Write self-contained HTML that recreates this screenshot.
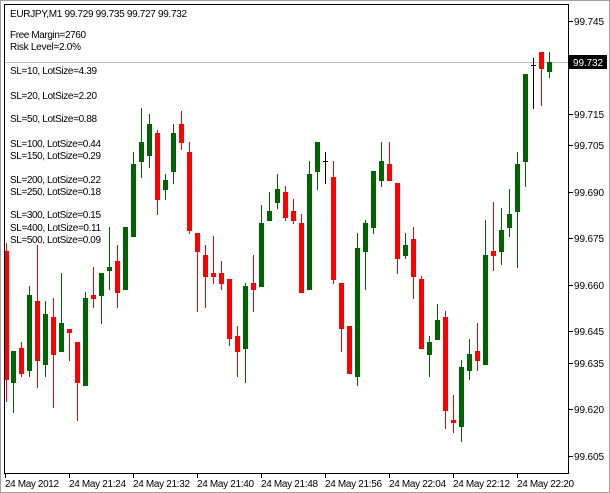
<!DOCTYPE html>
<html><head><meta charset="utf-8"><style>
html,body{margin:0;padding:0;background:#fff;}
svg{display:block;}
text{font-family:"Liberation Sans",sans-serif;font-size:10px;fill:#000;}
</style></head><body>
<svg width="610" height="493" viewBox="0 0 610 493" xmlns="http://www.w3.org/2000/svg">
<rect x="0" y="0" width="610" height="493" fill="#fff"/>
<rect x="0.5" y="0.5" width="609" height="492" fill="none" stroke="#a0a0a0"/>
<!-- chart frame -->
<rect x="4.5" y="4.5" width="564" height="469" fill="#fff" stroke="#000"/>
<!-- bid line -->
<line x1="5" y1="62.5" x2="568" y2="62.5" stroke="#c0c0c0"/>
<!-- texts -->
<text x="10" y="17" textLength="177">EURJPY,M1  99.729 99.735 99.727 99.732</text>
<text x="10" y="38" textLength="76">Free Margin=2760</text>
<text x="10" y="50" textLength="71">Risk Level=2.0%</text>
<text x="10" y="74" textLength="87">SL=10, LotSize=4.39</text>
<text x="10" y="99" textLength="87">SL=20, LotSize=2.20</text>
<text x="10" y="122" textLength="87">SL=50, LotSize=0.88</text>
<text x="10" y="147" textLength="91">SL=100, LotSize=0.44</text>
<text x="10" y="159" textLength="91">SL=150, LotSize=0.29</text>
<text x="10" y="183" textLength="91">SL=200, LotSize=0.22</text>
<text x="10" y="195" textLength="91">SL=250, LotSize=0.18</text>
<text x="10" y="218" textLength="91">SL=300, LotSize=0.15</text>
<text x="10" y="231" textLength="91">SL=400, LotSize=0.11</text>
<text x="10" y="243" textLength="91">SL=500, LotSize=0.09</text>
<!-- price axis -->
<g stroke="#000">
<line x1="569" y1="21.5" x2="573" y2="21.5"/><line x1="569" y1="67.5" x2="573" y2="67.5"/>
<line x1="569" y1="114.5" x2="573" y2="114.5"/><line x1="569" y1="145.5" x2="573" y2="145.5"/>
<line x1="569" y1="192.5" x2="573" y2="192.5"/><line x1="569" y1="238.5" x2="573" y2="238.5"/>
<line x1="569" y1="285.5" x2="573" y2="285.5"/><line x1="569" y1="331.5" x2="573" y2="331.5"/>
<line x1="569" y1="363.5" x2="573" y2="363.5"/><line x1="569" y1="409.5" x2="573" y2="409.5"/>
<line x1="569" y1="456.5" x2="573" y2="456.5"/>
</g>
<g>
<text x="574" y="25" textLength="30">99.745</text>
<text x="574" y="118" textLength="30">99.715</text>
<text x="574" y="149" textLength="30">99.705</text>
<text x="574" y="196" textLength="30">99.690</text>
<text x="574" y="242" textLength="30">99.675</text>
<text x="574" y="289" textLength="30">99.660</text>
<text x="574" y="335" textLength="30">99.645</text>
<text x="574" y="367" textLength="30">99.635</text>
<text x="574" y="413" textLength="30">99.620</text>
<text x="574" y="460" textLength="30">99.605</text>
</g>
<rect x="569" y="55" width="38" height="14" fill="#000"/>
<text x="573" y="66" textLength="30" style="fill:#fff">99.732</text>
<!-- time axis -->
<g stroke="#000">
<line x1="5.5" y1="473" x2="5.5" y2="478"/><line x1="69.5" y1="473" x2="69.5" y2="478"/>
<line x1="133.5" y1="473" x2="133.5" y2="478"/><line x1="197.5" y1="473" x2="197.5" y2="478"/>
<line x1="261.5" y1="473" x2="261.5" y2="478"/><line x1="325.5" y1="473" x2="325.5" y2="478"/>
<line x1="389.5" y1="473" x2="389.5" y2="478"/><line x1="453.5" y1="473" x2="453.5" y2="478"/>
<line x1="517.5" y1="473" x2="517.5" y2="478"/>
</g>
<g>
<text x="5" y="487" textLength="54">24 May 2012</text>
<text x="69" y="487" textLength="57">24 May 21:24</text>
<text x="133" y="487" textLength="57">24 May 21:32</text>
<text x="197" y="487" textLength="57">24 May 21:40</text>
<text x="261" y="487" textLength="57">24 May 21:48</text>
<text x="325" y="487" textLength="57">24 May 21:56</text>
<text x="389" y="487" textLength="57">24 May 22:04</text>
<text x="453" y="487" textLength="57">24 May 22:12</text>
<text x="517" y="487" textLength="57">24 May 22:20</text>
</g>
<!-- candles -->
<g fill="#ff0000">
<rect x="6" y="243" width="1" height="159"/><rect x="5" y="251" width="4" height="129"/>
<rect x="21" y="342" width="1" height="35"/><rect x="19" y="348" width="5" height="26"/>
<rect x="37" y="245" width="1" height="143"/><rect x="35" y="301" width="5" height="60"/>
<rect x="53" y="298" width="1" height="110"/><rect x="51" y="317" width="5" height="38"/>
<rect x="69" y="329" width="1" height="32"/><rect x="67" y="329" width="5" height="4"/>
<rect x="77" y="342" width="1" height="79"/><rect x="75" y="342" width="5" height="41"/>
<rect x="93" y="267" width="1" height="41"/><rect x="91" y="295" width="5" height="4"/>
<rect x="117" y="245" width="1" height="63"/><rect x="115" y="261" width="5" height="32"/>
<rect x="157" y="130" width="1" height="85"/><rect x="155" y="133" width="5" height="67"/>
<rect x="181" y="111" width="1" height="39"/><rect x="179" y="124" width="5" height="19"/>
<rect x="189" y="142" width="1" height="92"/><rect x="187" y="152" width="5" height="79"/>
<rect x="197" y="233" width="1" height="79"/><rect x="195" y="233" width="5" height="19"/>
<rect x="205" y="245" width="1" height="63"/><rect x="203" y="255" width="5" height="22"/>
<rect x="213" y="236" width="1" height="48"/><rect x="211" y="273" width="5" height="4"/>
<rect x="221" y="261" width="1" height="29"/><rect x="219" y="273" width="5" height="11"/>
<rect x="229" y="279" width="1" height="67"/><rect x="227" y="279" width="5" height="60"/>
<rect x="237" y="326" width="1" height="51"/><rect x="235" y="336" width="5" height="16"/>
<rect x="253" y="255" width="1" height="57"/><rect x="251" y="283" width="5" height="7"/>
<rect x="285" y="186" width="1" height="35"/><rect x="283" y="192" width="5" height="26"/>
<rect x="293" y="199" width="1" height="25"/><rect x="291" y="211" width="5" height="10"/>
<rect x="301" y="214" width="1" height="79"/><rect x="299" y="223" width="5" height="70"/>
<rect x="333" y="161" width="1" height="123"/><rect x="331" y="177" width="5" height="103"/>
<rect x="341" y="283" width="1" height="69"/><rect x="339" y="283" width="5" height="46"/>
<rect x="349" y="326" width="1" height="48"/><rect x="347" y="326" width="5" height="48"/>
<rect x="389" y="142" width="1" height="39"/><rect x="387" y="164" width="5" height="17"/>
<rect x="397" y="183" width="1" height="91"/><rect x="395" y="183" width="5" height="76"/>
<rect x="413" y="227" width="1" height="72"/><rect x="411" y="239" width="5" height="38"/>
<rect x="421" y="276" width="1" height="73"/><rect x="419" y="279" width="5" height="70"/>
<rect x="445" y="311" width="1" height="118"/><rect x="443" y="317" width="5" height="94"/>
<rect x="453" y="395" width="1" height="38"/><rect x="451" y="420" width="5" height="3"/>
<rect x="477" y="323" width="1" height="48"/><rect x="475" y="351" width="5" height="10"/>
<rect x="493" y="202" width="1" height="69"/><rect x="491" y="251" width="5" height="5"/>
<rect x="541" y="52" width="1" height="54"/><rect x="539" y="52" width="5" height="17"/>
</g>
<g fill="#006400">
<rect x="13" y="351" width="1" height="62"/><rect x="11" y="351" width="5" height="32"/>
<rect x="29" y="286" width="1" height="91"/><rect x="27" y="295" width="5" height="76"/>
<rect x="45" y="301" width="1" height="76"/><rect x="43" y="314" width="5" height="51"/>
<rect x="61" y="273" width="1" height="79"/><rect x="59" y="323" width="5" height="29"/>
<rect x="85" y="292" width="1" height="94"/><rect x="83" y="298" width="5" height="88"/>
<rect x="101" y="273" width="1" height="51"/><rect x="99" y="273" width="5" height="23"/>
<rect x="109" y="227" width="1" height="63"/><rect x="107" y="267" width="5" height="4"/>
<rect x="125" y="227" width="1" height="63"/><rect x="123" y="227" width="5" height="63"/>
<rect x="133" y="152" width="1" height="85"/><rect x="131" y="164" width="5" height="73"/>
<rect x="141" y="108" width="1" height="70"/><rect x="139" y="142" width="5" height="20"/>
<rect x="149" y="114" width="1" height="54"/><rect x="147" y="124" width="5" height="32"/>
<rect x="165" y="174" width="1" height="26"/><rect x="163" y="180" width="5" height="10"/>
<rect x="173" y="124" width="1" height="60"/><rect x="171" y="133" width="5" height="39"/>
<rect x="245" y="283" width="1" height="100"/><rect x="243" y="286" width="5" height="63"/>
<rect x="261" y="205" width="1" height="82"/><rect x="259" y="223" width="5" height="64"/>
<rect x="269" y="192" width="1" height="29"/><rect x="267" y="211" width="5" height="10"/>
<rect x="277" y="174" width="1" height="35"/><rect x="275" y="189" width="5" height="14"/>
<rect x="309" y="161" width="1" height="129"/><rect x="307" y="174" width="5" height="116"/>
<rect x="317" y="142" width="1" height="48"/><rect x="315" y="142" width="5" height="30"/>
<rect x="357" y="233" width="1" height="153"/><rect x="355" y="248" width="5" height="129"/>
<rect x="365" y="220" width="1" height="70"/><rect x="363" y="223" width="5" height="29"/>
<rect x="373" y="171" width="1" height="63"/><rect x="371" y="171" width="5" height="57"/>
<rect x="381" y="142" width="1" height="45"/><rect x="379" y="161" width="5" height="20"/>
<rect x="405" y="233" width="1" height="26"/><rect x="403" y="245" width="5" height="11"/>
<rect x="429" y="336" width="1" height="41"/><rect x="427" y="342" width="5" height="13"/>
<rect x="437" y="304" width="1" height="36"/><rect x="435" y="320" width="5" height="20"/>
<rect x="461" y="360" width="1" height="82"/><rect x="459" y="367" width="5" height="60"/>
<rect x="469" y="339" width="1" height="41"/><rect x="467" y="354" width="5" height="17"/>
<rect x="485" y="220" width="1" height="145"/><rect x="483" y="255" width="5" height="110"/>
<rect x="501" y="208" width="1" height="57"/><rect x="499" y="230" width="5" height="22"/>
<rect x="509" y="189" width="1" height="48"/><rect x="507" y="214" width="5" height="14"/>
<rect x="517" y="152" width="1" height="116"/><rect x="515" y="164" width="5" height="48"/>
<rect x="525" y="74" width="1" height="113"/><rect x="523" y="74" width="5" height="88"/>
<rect x="549" y="52" width="1" height="26"/><rect x="547" y="62" width="5" height="10"/>
</g>
<g fill="#000">
<rect x="325" y="152" width="1" height="32"/><rect x="323" y="161" width="5" height="1"/>
<rect x="533" y="58" width="1" height="51"/><rect x="531" y="65" width="5" height="1"/>
</g>
</svg>
</body></html>
